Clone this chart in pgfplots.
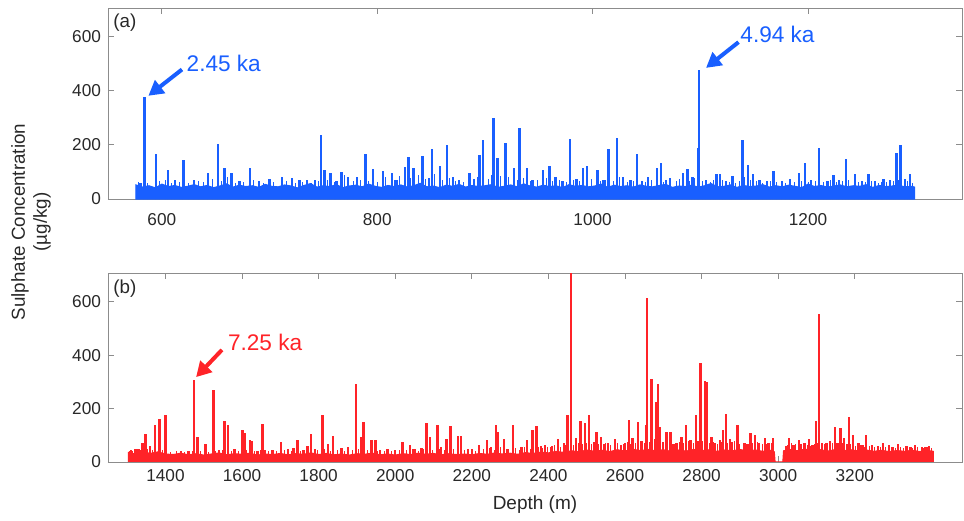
\documentclass[border=0pt]{standalone}
\usepackage{fontspec}
\setmainfont{Liberation Sans}
\usepackage{pgfplots}
\pgfplotsset{compat=1.18}
\usetikzlibrary{arrows.meta}
\definecolor{sblue}{RGB}{25,95,255}
\definecolor{sred}{RGB}{255,35,40}
\definecolor{axgray}{RGB}{140,140,140}
\definecolor{txtgray}{RGB}{40,40,40}

\pgfplotsset{panel/.style={
  scale only axis, width=427pt,
  axis line style={axgray}, tick style={axgray, line width=0.4pt},
  tick align=inside, major tick length=3pt,
  ticklabel style={font=\fontsize{8.6}{10}\selectfont, text=txtgray},
  /pgf/number format/assume math mode=true,
  /pgf/number format/1000 sep={},
  ymin=0, ytick={0,200,400,600}, clip=true}}

\begin{document}
\begin{tikzpicture}
\useasboundingbox (-54pt,-256pt) rectangle (428pt,4pt);

% (a) upper core section
\begin{axis}[panel, at={(0,0)}, anchor=north west, height=95.5pt,
  xmin=550, xmax=1343, ymax=705, xtick={600,800,1000,1200},
  xticklabel style={yshift=-3.5pt}]
% dense background band (upper envelope)
\addplot[draw=sblue, fill=sblue, line width=0.5pt] coordinates {
(576,52) (582,44) (588,49) (594,41) (600,55) (606,46) (612,50) (618,43) (624,47) (630,53)
(636,45) (642,50) (648,42) (654,48) (660,56) (666,44) (672,51) (678,46) (684,49) (690,43)
(696,54) (702,47) (708,45) (714,52) (720,48) (726,41) (732,50) (738,57) (744,44) (750,49)
(756,46) (762,53) (768,42) (774,48) (780,51) (786,45) (792,55) (798,47) (804,43) (810,50)
(816,46) (822,52) (828,44) (834,49) (840,58) (846,45) (852,48) (858,42) (864,51) (870,47)
(876,54) (882,44) (888,50) (894,46) (900,49) (906,53) (912,43) (918,47) (924,52) (930,45)
(936,56) (942,48) (948,44) (954,51) (960,46) (966,49) (972,42) (978,53) (984,47) (990,50)
(996,45) (1002,48) (1008,55) (1014,43) (1020,51) (1026,46) (1032,49) (1038,44) (1044,52) (1050,47)
(1056,45) (1062,50) (1068,54) (1074,43) (1080,48) (1086,46) (1092,51) (1098,44) (1104,49) (1110,57)
(1116,45) (1122,47) (1128,52) (1134,43) (1140,50) (1146,46) (1152,48) (1158,53) (1164,44) (1170,49)
(1176,45) (1182,51) (1188,47) (1194,42) (1200,55) (1206,46) (1212,50) (1218,44) (1224,48) (1230,52)
(1236,45) (1242,49) (1248,47) (1254,53) (1260,43) (1266,50) (1272,46) (1278,48) (1284,51) (1290,45)
(1296,47) (1299,44)
} \closedcycle;
% small peaks on top of the band
\addplot[ycomb, no marks, draw=sblue, line width=0.5pt] coordinates {
(578,62) (587,58) (598,66) (603,72) (609,60) (616,64) (625,58) (634,68) (639,62) (647,74)
(655,66) (661,80) (668,60) (676,64) (685,70) (694,58) (704,62) (716,66) (724,60) (731,64)
(739,58) (745,68) (754,72) (760,62) (770,88) (778,66) (784,72) (792,68) (800,64) (808,80)
(816,70) (821,84) (831,76) (838,88) (845,74) (853,92) (861,70) (867,76) (873,66) (880,64)
(887,70) (893,80) (903,74) (906,90) (914,86) (922,80) (930,72) (936,78) (942,66) (949,70)
(957,76) (963,68) (969,72) (976,64) (982,70) (988,66) (999,74) (1007,68) (1012,72) (1019,66)
(1025,80) (1032,64) (1038,68) (1049,62) (1055,70) (1066,64) (1078,68) (1081,74) (1090,66) (1095,78)
(1102,66) (1109,62) (1112,70) (1121,72) (1127,64) (1133,60) (1136,68) (1141,80) (1147,72) (1152,66)
(1158,60) (1165,66) (1171,62) (1179,60) (1187,64) (1194,66) (1200,62) (1207,68) (1214,64) (1221,70)
(1226,62) (1232,66) (1238,70) (1247,64) (1253,62) (1259,66) (1265,60) (1268,64) (1273,62) (1279,68)
(1284,72) (1292,66) (1297,60)
};
% sulphate spikes
\addplot[ycomb, no marks, draw=sblue, line width=1.2pt] coordinates {
(584,377) (594.6,167) (605.7,107) (620,144) (643,96) (652,204) (658,115) (664.5,96)
(682,115) (700,75) (711.5,83) (721,78) (735,70) (748,237) (751,107) (756.5,96) (767,100)
(773,83) (781,83) (789,167) (796,109) (805.5,104) (813.6,96) (826,120) (829,154)
(833.6,115) (842,159) (851,184) (858.5,122) (864.7,200) (870.6,83) (885.5,96) (895,163)
(898,218) (908,299) (911.7,151) (919,206) (927,115) (932,262) (939,115) (954,107)
(960,122) (965.5,83) (979,221) (991,115) (995,122) (1004.5,107) (1014.7,184) (1022.5,225)
(1028,83) (1041,167) (1051.5,83) (1059.6,115) (1063.6,134) (1072,78) (1084,95) (1088,110)
(1092.7,82) (1097.6,188) (1099,475) (1115,91) (1118,91) (1129.7,85) (1139,218) (1144,126)
(1149,91) (1168,105) (1183,75) (1191.7,95) (1197,132) (1210,188) (1223.6,87) (1235,147)
(1243.6,91) (1256,93) (1270,75) (1282,169) (1286,200) (1294.7,91)
(580,60) (612,70) (630,72) (672,68) (690,66) (728,70) (742,72) (762,66) (818,72) (848,78)
(876,70) (890,74) (944,72) (972,68) (985,75) (1010,70) (1035,72) (1046,66) (1068,72)
(1105,70) (1124,68) (1155,70) (1162,66) (1176,68) (1203,72) (1218,66) (1229,70) (1250,66)
(1262,68) (1276,72) (1290,75)
};
\draw[sblue, line width=2pt, -{Triangle[length=7.5pt,width=8pt]}] (axis cs:618.7,478) -- (axis cs:587.5,381);
\draw[sblue, line width=2pt, -{Triangle[length=7.5pt,width=8pt]}] (axis cs:1135.5,579) -- (axis cs:1105.3,484);
\node[sblue, anchor=west, inner sep=0pt, font=\fontsize{11.3}{13}\selectfont] at (axis cs:622.7,501) {2.45 ka};
\node[sblue, anchor=west, inner sep=0pt, font=\fontsize{11.3}{13}\selectfont] at (axis cs:1136.9,608) {4.94 ka};
\node[anchor=west, inner sep=0pt, text=txtgray, font=\fontsize{9.4}{11}\selectfont] at ([xshift=2.5pt,yshift=-7.5pt]rel axis cs:0,1) {(a)};
\end{axis}

% (b) lower core section
\begin{axis}[panel, at={(0,-132.5pt)}, anchor=north west, height=94.5pt,
  xmin=1250, xmax=3480, ymax=708, xtick={1400,1600,1800,2000,2200,2400,2600,2800,3000,3200}]
\addplot[draw=sred, fill=sred, line width=0.5pt] coordinates {
(1303,36) (1320,30) (1340,40) (1360,32) (1380,38) (1400,30)
(1420,28) (1440,33) (1460,27) (1480,31) (1500,26) (1520,30) (1540,34) (1560,27) (1580,31) (1600,29)
(1620,33) (1640,26) (1660,30) (1680,28) (1700,32) (1720,27) (1740,31) (1760,29) (1780,34) (1800,28)
(1820,32) (1840,27) (1860,30) (1880,26) (1900,31) (1920,29) (1940,33) (1960,27) (1980,30) (2000,26)
(2020,31) (2040,28) (2060,33) (2080,29) (2100,32) (2120,27) (2140,31) (2160,28) (2180,30) (2200,27)
(2220,32) (2240,29) (2260,34) (2280,30) (2300,33) (2320,29) (2340,35) (2360,32) (2380,37) (2400,34)
(2420,40) (2440,36) (2460,42) (2480,38) (2500,45) (2520,40) (2540,44) (2560,39) (2580,46) (2600,41)
(2620,48) (2640,43) (2660,47) (2680,42) (2700,46) (2720,40) (2740,45) (2760,41) (2780,47) (2800,43)
(2820,46) (2840,40) (2860,45) (2880,42) (2900,47) (2920,41) (2940,45) (2960,40) (2980,44) (2990,38)
(2992,0) (3012,0) (3014,42)
(3030,47) (3050,42) (3070,48) (3090,43) (3110,46) (3130,41) (3150,47) (3170,42) (3190,46) (3210,41)
(3230,45) (3250,40) (3270,44) (3290,39) (3310,43) (3330,40) (3350,44) (3370,39) (3390,43) (3405,40)
} \closedcycle;
\addplot[ycomb, no marks, draw=sred, line width=0.5pt] coordinates {
(1307,42) (1315,40) (1336,45) (1352,48) (1366,44) (1392,46) (1412,38) (1430,40) (1450,36) (1470,40)
(1492,42) (1512,38) (1532,40) (1548,44) (1572,40) (1590,42) (1612,46) (1632,40) (1648,44) (1670,40)
(1690,42) (1710,44) (1728,40) (1752,42) (1768,46) (1798,44) (1815,48) (1832,42) (1850,45) (1868,40)
(1888,44) (1905,48) (1928,46) (1955,42) (1972,40) (1990,42) (2010,46) (2030,44) (2046,48) (2060,42)
(2075,50) (2098,46) (2115,50) (2128,44) (2152,48) (2180,44) (2210,42) (2230,48) (2245,52) (2258,46)
(2275,56) (2290,48) (2315,52) (2325,46) (2338,55) (2352,50) (2375,56) (2385,52) (2398,58)
(2405,56) (2415,62) (2432,58) (2445,65) (2465,62) (2478,70) (2490,66) (2500,72) (2512,68) (2532,66)
(2550,72) (2562,64) (2580,70) (2596,66) (2606,75) (2615,68) (2628,72) (2640,80) (2650,70) (2665,76)
(2676,85) (2698,72) (2712,78) (2730,66) (2742,74) (2753,70) (2766,78) (2778,72) (2803,80) (2820,70)
(2830,76) (2842,68) (2852,74) (2868,72) (2885,78) (2900,66) (2915,72) (2933,70) (2945,74) (2958,68)
(2970,66) (2982,72)
(3018,56) (3025,62) (3035,70) (3046,66) (3058,62) (3066,70) (3076,64) (3085,60) (3095,66) (3103,70)
(3112,62) (3120,66) (3130,70) (3142,72) (3152,64) (3168,70) (3178,62) (3190,66) (3202,60) (3215,62)
(3226,58) (3238,60) (3252,56) (3266,58) (3280,55) (3296,56) (3306,54) (3320,56) (3328,52) (3342,55)
(3352,54) (3364,56) (3380,52) (3390,55) (3400,52)
};
\addplot[ycomb, no marks, draw=sred, line width=1.2pt] coordinates {
(1330,50) (1340,70) (1348,104) (1360,60) (1372.5,137) (1384,162) (1400,175) (1475,307)
(1484,94) (1505,69) (1526,270) (1554,154) (1564,137) (1601,119) (1608,109) (1621,82)
(1625,78) (1653,141) (1680,45) (1702,76) (1734,51) (1745,82) (1771,61) (1780,104)
(1809.6,175) (1825,67) (1838,97) (1876,55) (1897.4,292) (1912,94) (1917.5,150) (1938,84)
(1949,82) (2019,76) (2038,63) (2069,53) (2082,147) (2090.6,94) (2110.6,140) (2134,88)
(2144.6,135) (2164.5,98) (2171,98) (2219,63) (2240,82) (2263,137) (2269,113) (2284.6,88)
(2308,137) (2344.6,82) (2358.7,119) (2369,135) (2391,63) (2410,60) (2425.6,88) (2450,175)
(2458.7,720) (2472,90) (2484,152) (2495,147) (2506.5,175) (2526,113) (2537,94) (2555,70)
(2573.6,85) (2590,65) (2611,156) (2620,90) (2634.5,150) (2645,80) (2656,137) (2658,614)
(2669.5,311) (2682,224) (2686.7,292) (2691,131) (2708.6,113) (2719,113) (2735,70) (2748,94)
(2759,140) (2771,82) (2785,175) (2797,371) (2808.6,305) (2814.6,298) (2826,94) (2848,82)
(2856,119) (2863.5,181) (2874,88) (2894,137) (2910,70) (2928,107) (2939,100) (2950,70)
(2965,90) (2987,90) (3028.7,90) (3040,65) (3054.8,82) (3070,70) (3081,88) (3098.5,152)
(3107,553) (3124.5,72) (3135,80) (3148,131) (3162.5,128) (3172,90) (3185,168) (3196,100)
(3210,70) (3229.5,103) (3245,65) (3260,60) (3274,70) (3290,62) (3313.6,66) (3335,60)
(3357,63) (3375,58) (3394.5,60)
(2380,60) (2440,70) (2520,75) (2545,68) (2600,72) (2700,75) (2725,68) (2760,70) (2790,80)
(2835,72) (2880,75) (2920,68) (2975,70) (3020,60) (3060,68) (3090,62) (3115,70) (3155,72)
(3180,66) (3220,62) (3300,58) (3345,56) (3385,55)
(1310,45) (1322,48) (1440,40) (1460,42) (1540,45) (1580,48) (1640,42) (1660,45) (1720,48)
(1760,45) (1790,48) (1860,52) (1960,45) (1980,48) (2000,45) (2050,50) (2120,55) (2190,50)
(2200,48) (2250,55) (2295,50) (2330,55)
};
\draw[sred, line width=2pt, -{Triangle[length=7.5pt,width=8pt]}] (axis cs:1547.5,420) -- (axis cs:1480,318);
\node[sred, anchor=west, inner sep=0pt, font=\fontsize{11.3}{13}\selectfont] at (axis cs:1562.4,447) {7.25 ka};
\node[anchor=west, inner sep=0pt, text=txtgray, font=\fontsize{9.4}{11}\selectfont] at ([xshift=2.5pt,yshift=-8pt]rel axis cs:0,1) {(b)};
\end{axis}

\node[rotate=90, align=center, text=txtgray, font=\fontsize{9.4}{11}\selectfont] at (-38.5pt,-107pt) {Sulphate Concentration\\(µg/kg)};
\node[text=txtgray, font=\fontsize{9.5}{11}\selectfont] at (213.5pt,-248.5pt) {Depth (m)};
\end{tikzpicture}
\end{document}
